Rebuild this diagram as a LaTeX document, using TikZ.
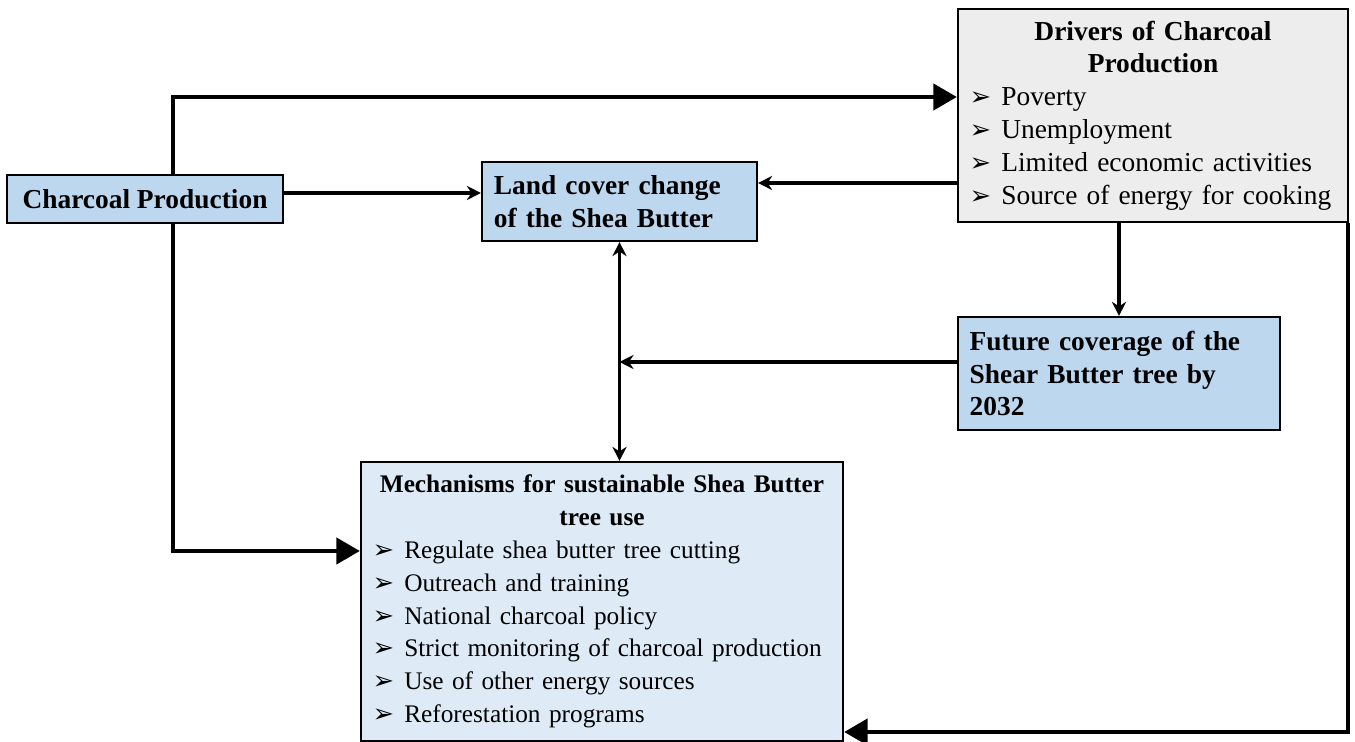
\documentclass[tikz,border=0pt]{standalone}
\usepackage{fontspec}
\setmainfont{Liberation Serif}
\newfontfamily\symfont{DejaVu Sans}
\usepackage{xcolor}
\usetikzlibrary{arrows.meta}

\definecolor{boxblue}{HTML}{BDD7EE}
\definecolor{mechblue}{HTML}{DEEBF7}
\definecolor{drvgray}{HTML}{EDEDED}

\newcommand{\bularrow}{\makebox[13.5pt][l]{\symfont\fontsize{11}{11}\selectfont ➢}}

\begin{document}
\begin{tikzpicture}[x=0.015cm, y=-0.015cm, thick,
    box/.style={draw, rectangle, line width=0.9pt, inner xsep=5pt, inner ysep=2pt,
        font=\fontsize{11.7}{14}\selectfont},
    thinarr/.style={line width=1.3pt, -{Stealth[length=6pt, width=6pt]}},
    botharr/.style={line width=1.3pt, {Stealth[length=6pt, width=6pt]}-{Stealth[length=6pt, width=6pt]}},
    bigarr/.style={line width=2pt, -{Triangle[length=10pt, width=11pt]}}]

\useasboundingbox (0,0) rectangle (1355,742);

% Boxes
\node[box, fill=boxblue, minimum width=4.14cm, minimum height=0.72cm] (cp) at (145,199)
    {\textbf{Charcoal Production}};
\node[box, fill=boxblue, minimum width=4.125cm, minimum height=1.185cm, text width=3.77cm, align=left] (lcc) at (619.5,201.5)
    {\textbf{Land cover change\\of the Shea Butter}};
\node[box, fill=drvgray, minimum width=5.85cm, minimum height=3.195cm, text width=5.5cm] (drv) at (1153,115.5)
    {{\centering\bfseries Drivers of Charcoal\\Production\par}\raggedright
     \bularrow Poverty\\
     \bularrow Unemployment\\
     \bularrow Limited economic activities\\
     \bularrow Source of energy for cooking};
\node[box, fill=boxblue, minimum width=4.83cm, minimum height=1.695cm, text width=4.48cm, align=left] (fut) at (1119,373.5)
    {\textbf{Future coverage of the\\Shear Butter tree by\\2032}};
\node[box, fill=mechblue, minimum width=7.23cm, minimum height=4.185cm, text width=6.88cm,
      font=\fontsize{10.8}{14}\selectfont] (mech) at (602,601.5)
    {{\centering\bfseries Mechanisms for sustainable Shea Butter\\tree use\par}\raggedright
     \bularrow Regulate shea butter tree cutting\\
     \bularrow Outreach and training\\
     \bularrow National charcoal policy\\
     \bularrow Strict monitoring of charcoal production\\
     \bularrow Use of other energy sources\\
     \bularrow Reforestation programs};

% Connectors
\draw[bigarr] ([xshift=28*0.015cm]cp.north) |- ([yshift=18.5*0.015cm]drv.west);
\draw[thinarr] ([yshift=6*0.015cm]cp.east) -- ([yshift=6*0.015cm]cp.east -| lcc.west);
\draw[thinarr] ([yshift=-67.5*0.015cm]drv.west) -- ([yshift=-67.5*0.015cm]drv.west -| lcc.east);
\draw[thinarr] (fut.north |- drv.south) -- (fut.north);
\coordinate (fj) at ([yshift=11.5*0.015cm]fut.west -| lcc.south);
\draw[thinarr] ([yshift=11.5*0.015cm]fut.west) -- (fj);
\draw[botharr] (lcc.south) -- (lcc.south |- mech.north);
\draw[bigarr] ([xshift=28*0.015cm]cp.south) |- ([yshift=50.5*0.015cm]mech.west);
\draw[bigarr] ([xshift=-0.5pt]drv.south east) |- ([yshift=-130.5*0.015cm]mech.east);

\end{tikzpicture}
\end{document}
